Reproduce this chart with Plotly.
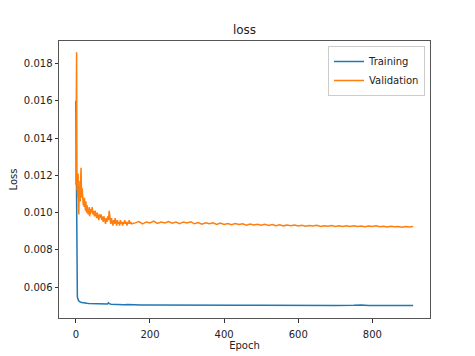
import plotly.graph_objects as go

# Validation loss
val_epochs = list(range(0, 41)) + list(range(42, 151, 2)) + list(range(160, 911, 10))
val_loss = [
    0.0115, 0.0161, 0.0186, 0.0112, 0.0118, 0.0108, 0.0121, 0.0103, 0.0099, 0.0113,
    0.0110, 0.0117, 0.0106, 0.0119, 0.0124, 0.0112, 0.0108, 0.0113, 0.0105, 0.0109,
    0.0104, 0.0107, 0.0103, 0.0108, 0.0102, 0.0105, 0.0101, 0.0106, 0.0103, 0.0100,
    0.0104, 0.0101, 0.0103, 0.0099, 0.0102, 0.0100, 0.0103, 0.0098, 0.0101, 0.0099,
    0.0102,
    # 42..150 step 2
    0.0100, 0.0103, 0.0099, 0.0101, 0.0098, 0.0101, 0.0099, 0.0097, 0.0100, 0.0098,
    0.0096, 0.0099, 0.0097, 0.0099, 0.0096, 0.0098, 0.0095, 0.0098, 0.0096, 0.0094,
    0.0097, 0.0095, 0.0098, 0.0096, 0.0101, 0.0097, 0.0094, 0.0097, 0.0095, 0.0093,
    0.0096, 0.0094, 0.0097, 0.0095, 0.0093, 0.0096, 0.0094, 0.0095, 0.0093, 0.0096,
    0.0094, 0.0095, 0.0093, 0.0095, 0.0094, 0.0096, 0.0094, 0.0095, 0.0093, 0.0095,
    0.0094, 0.0096, 0.0094, 0.0095, 0.0094,
    # 160..910 step 10
    0.00945, 0.00952, 0.00940, 0.00950, 0.00945, 0.00955, 0.00942, 0.00950, 0.00944, 0.00952,
    0.00943, 0.00949, 0.00941, 0.00950, 0.00944, 0.00951, 0.00940, 0.00947, 0.00938, 0.00946,
    0.00940, 0.00945, 0.00937, 0.00944, 0.00936, 0.00942, 0.00935, 0.00941, 0.00936, 0.00940,
    0.00933, 0.00939, 0.00934, 0.00938, 0.00932, 0.00937, 0.00931, 0.00936, 0.00930, 0.00935,
    0.00929, 0.00934, 0.00930, 0.00933, 0.00928, 0.00932, 0.00927, 0.00931, 0.00928, 0.00932,
    0.00926, 0.00930, 0.00927, 0.00931, 0.00926, 0.00929, 0.00925, 0.00929, 0.00926, 0.00930,
    0.00925, 0.00928, 0.00924, 0.00928, 0.00925, 0.00929, 0.00924, 0.00927, 0.00923, 0.00927,
    0.00924, 0.00926, 0.00922, 0.00926, 0.00923, 0.00925,
]

# Training loss
train_epochs = [0, 1, 2, 3, 4, 5, 6, 7, 8, 9, 10, 12, 14, 16, 18, 20, 25, 30, 35, 40,
                45, 50, 55, 60, 65, 70, 75, 80, 85, 88, 90, 95, 100, 105, 110, 120,
                130, 140, 150, 175, 200, 250, 300, 350, 400, 450, 500, 550, 600, 650,
                700, 750, 770, 790, 835, 850, 910]
train_loss = [0.0160, 0.0110, 0.0072, 0.0061, 0.0055, 0.0054, 0.0053, 0.00528, 0.00526, 0.00524,
              0.00522, 0.00520, 0.00519, 0.00518, 0.00517, 0.00516, 0.00515, 0.00514, 0.00513, 0.00513,
              0.00512, 0.00512, 0.00511, 0.00511, 0.00510, 0.00511, 0.00510, 0.00509, 0.00510, 0.00516,
              0.00512, 0.00509, 0.00508, 0.00510, 0.00507, 0.00507, 0.00506, 0.00507, 0.00506, 0.00505,
              0.00505, 0.00504, 0.00505, 0.00504, 0.00504, 0.00503, 0.00504, 0.00503, 0.00503, 0.00503,
              0.00502, 0.00503, 0.00505, 0.00502, 0.00504, 0.00502, 0.00502]

y_ticks = [0.006, 0.008, 0.010, 0.012, 0.014, 0.016, 0.018]
x_ticks = [0, 200, 400, 600, 800]

fig = go.Figure()
fig.add_trace(go.Scatter(x=train_epochs, y=train_loss, mode="lines", name="Training",
                         line=dict(color="#1f77b4", width=1.5)))
fig.add_trace(go.Scatter(x=val_epochs, y=val_loss, mode="lines", name="Validation",
                         line=dict(color="#ff7f0e", width=1.5)))

axis_common = dict(showline=True, linecolor="#555555", linewidth=1, mirror=True,
                   ticks="outside", ticklen=3.5, tickcolor="#333333", showgrid=False,
                   zeroline=False, automargin=False,
                   tickfont=dict(size=10, color="#222222"))

# page body adds an 8px offset, so the figure is laid out 8px smaller
W, H = 467, 348
L, T, R, B = 51, 33, 45, 38

fig.update_layout(
    width=W, height=H,
    margin=dict(l=L, r=R, t=T, b=B),
    paper_bgcolor="white", plot_bgcolor="white",
    font=dict(family="DejaVu Sans", size=10, color="#222222"),
    title=dict(text="loss", x=(L + (W - R)) / 2 / W, xanchor="center",
               y=1 - 22 / H, yanchor="middle", font=dict(size=12)),
    xaxis=dict(range=[-45.5, 955.5], tickvals=x_ticks, ticklabelstandoff=3,
               title=dict(text="Epoch", standoff=2, font=dict(size=10)), **axis_common),
    yaxis=dict(range=[0.00435, 0.0192], tickvals=y_ticks, tickformat=".3f",
               title=dict(text="Loss", standoff=5, font=dict(size=10)), **axis_common),
    legend=dict(x=0.9865, y=0.982, xanchor="right", yanchor="top",
                bgcolor="white", bordercolor="#cccccc", borderwidth=1,
                font=dict(size=10), itemwidth=30, tracegroupgap=0),
    showlegend=True,
)

fig.write_html("out.html")
